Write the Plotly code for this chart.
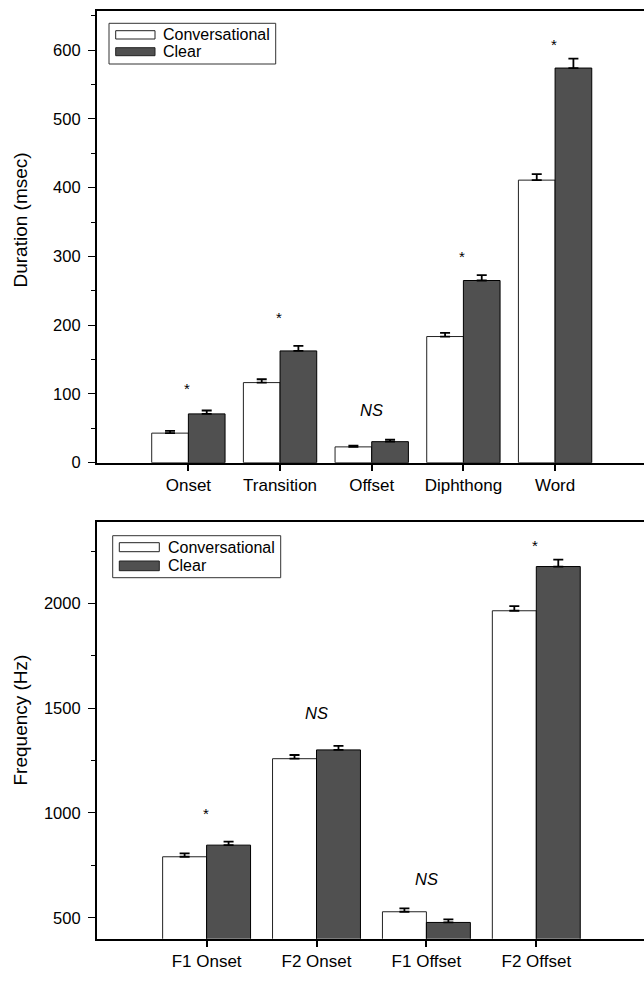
import plotly.graph_objects as go

# ---------------- data ----------------
dur_categories = ["Onset", "Transition", "Offset", "Diphthong", "Word"]
dur_conv = [43, 116.5, 23, 183.5, 411]
dur_conv_err = [3.4, 4.9, 1.9, 5.3, 8.7]
dur_clear = [71, 162.6, 30.6, 265, 574]
dur_clear_err = [4.9, 7.3, 2.9, 7.8, 13.6]
dur_sig = ["*", "*", "NS", "*", "*"]
dur_sig_y = [113, 215, 77, 305, 613]
dur_ticks = [0, 100, 200, 300, 400, 500, 600]
dur_minor = [50, 150, 250, 350, 450, 550, 650]

frq_categories = ["F1 Onset", "F2 Onset", "F1 Offset", "F2 Offset"]
frq_conv = [791, 1259, 528.6, 1965]
frq_conv_err = [16, 17.6, 15.7, 22.4]
frq_clear = [846.5, 1301, 477.6, 2176]
frq_clear_err = [17, 19, 14.3, 33]
frq_sig = ["*", "NS", "NS", "*"]
frq_sig_y = [1013, 1475, 687, 2290]
frq_ticks = [500, 1000, 1500, 2000]
frq_minor = [750, 1250, 1750, 2250]

series_names = ["Conversational", "Clear"]

# ---------------- styling ----------------
W, H = 644, 991
FONT = "Liberation Sans, Arial, Helvetica, sans-serif"
CONV_FILL = "white"
CLEAR_FILL = "#505050"


def px(x):
    return x / W


def py(y):
    return 1 - y / H


fig = go.Figure()


def add_panel(cats, conv, conv_err, clear, clear_err, xa, ya):
    fig.add_trace(go.Bar(
        x=cats, y=conv, name=series_names[0], xaxis=xa, yaxis=ya,
        marker=dict(color=CONV_FILL, line=dict(color="#222222", width=1)),
        error_y=dict(type="data", array=conv_err, arrayminus=[0] * len(conv_err),
                     symmetric=False, color="black", thickness=1.8, width=5),
        offsetgroup="a", showlegend=False,
    ))
    fig.add_trace(go.Bar(
        x=cats, y=clear, name=series_names[1], xaxis=xa, yaxis=ya,
        marker=dict(color=CLEAR_FILL, line=dict(color="black", width=1)),
        error_y=dict(type="data", array=clear_err, arrayminus=[0] * len(clear_err),
                     symmetric=False, color="black", thickness=1.8, width=5),
        offsetgroup="b", showlegend=False,
    ))


add_panel(dur_categories, dur_conv, dur_conv_err, dur_clear, dur_clear_err, "x", "y")
add_panel(frq_categories, frq_conv, frq_conv_err, frq_clear, frq_clear_err, "x2", "y2")

x_left = 96.7
top1, bot1 = 11, 462.7
top2, bot2 = 521.7, 938.7

xaxis_common = dict(
    type="category", showline=True, linecolor="black", linewidth=2, mirror=True,
    ticks="outside", ticklen=6, tickwidth=1.5, tickcolor="black",
    tickfont=dict(size=17, color="black", family=FONT),
    showgrid=False, zeroline=False, automargin=False, fixedrange=True,
)
yaxis_common = dict(
    showline=True, linecolor="black", linewidth=1.5,
    ticks="outside", ticklen=7, tickwidth=1.2, tickcolor="black",
    ticklabelstandoff=4,
    tickfont=dict(size=16.5, color="black", family=FONT),
    showgrid=False, zeroline=False, automargin=False,
)

fig.update_layout(
    width=W, height=H,
    margin=dict(l=0, r=0, t=0, b=0),
    paper_bgcolor="white", plot_bgcolor="white",
    font=dict(family=FONT, color="black"),
    barmode="group", bargap=0.2, bargroupgap=0,
    showlegend=False,
    xaxis=dict(domain=[px(x_left), 1], anchor="y", range=[-1, 4.97], **xaxis_common),
    yaxis=dict(domain=[py(bot1), py(top1)], anchor="x", range=[0, 657],
               tickvals=dur_ticks,
               minor=dict(tickvals=dur_minor, ticks="outside", ticklen=4,
                          tickcolor="black", tickwidth=1),
               **yaxis_common),
    xaxis2=dict(domain=[px(x_left), 1], anchor="y2", range=[-1, 3.98], **xaxis_common),
    yaxis2=dict(domain=[py(bot2), py(top2)], anchor="x2", range=[400, 2390],
                tickvals=frq_ticks,
                minor=dict(tickvals=frq_minor, ticks="outside", ticklen=4,
                           tickcolor="black", tickwidth=1),
                **yaxis_common),
)

annotations = []
# significance markers
for cats, sig, sy, xr, yr in [
    (dur_categories, dur_sig, dur_sig_y, "x", "y"),
    (frq_categories, frq_sig, frq_sig_y, "x2", "y2"),
]:
    for c, s, v in zip(cats, sig, sy):
        if s == "*":
            annotations.append(dict(x=c, y=v, xref=xr, yref=yr, text="*", showarrow=False,
                                    font=dict(size=15, color="#000000", family=FONT),
                                    xanchor="center", yanchor="middle", yshift=-3, xshift=-1))
        else:
            annotations.append(dict(x=c, y=v, xref=xr, yref=yr, text="<i>%s</i>" % s,
                                    showarrow=False,
                                    font=dict(size=16.5, color="black", family=FONT),
                                    xanchor="center", yanchor="middle"))

# axis titles
annotations.append(dict(x=px(19.5), y=py(220), xref="paper", yref="paper",
                        text="Duration (msec)", textangle=-90, showarrow=False,
                        font=dict(size=19, color="black", family=FONT),
                        xanchor="center", yanchor="middle"))
annotations.append(dict(x=px(19.5), y=py(720), xref="paper", yref="paper",
                        text="Frequency (Hz)", textangle=-90, showarrow=False,
                        font=dict(size=19, color="black", family=FONT),
                        xanchor="center", yanchor="middle"))

shapes = []


def legend_box(bx0, by0, bx1, by1, sx0, sx1, rows, tx):
    shapes.append(dict(type="rect", xref="paper", yref="paper",
                       x0=px(bx0), x1=px(bx1), y0=py(by1), y1=py(by0),
                       line=dict(color="#333333", width=1), fillcolor="white", layer="above"))
    fills = [CONV_FILL, CLEAR_FILL]
    for (ry0, ry1), name, f in zip(rows, series_names, fills):
        shapes.append(dict(type="rect", xref="paper", yref="paper",
                           x0=px(sx0), x1=px(sx1), y0=py(ry1), y1=py(ry0),
                           line=dict(color="#222222", width=1), fillcolor=f, layer="above"))
        annotations.append(dict(x=px(tx), y=py((ry0 + ry1) / 2), xref="paper", yref="paper",
                                text=name, showarrow=False,
                                font=dict(size=16, color="black", family=FONT),
                                xanchor="left", yanchor="middle"))


legend_box(109, 23.3, 275.7, 64, 115.7, 155, [(30.7, 39), (47.7, 55.7)], 160.5)
legend_box(112.7, 535.7, 280.7, 577.7, 119.3, 159.3, [(542.7, 551.7), (561, 570.7)], 165.5)

fig.update_layout(annotations=annotations, shapes=shapes)

fig.write_html("out.html")
